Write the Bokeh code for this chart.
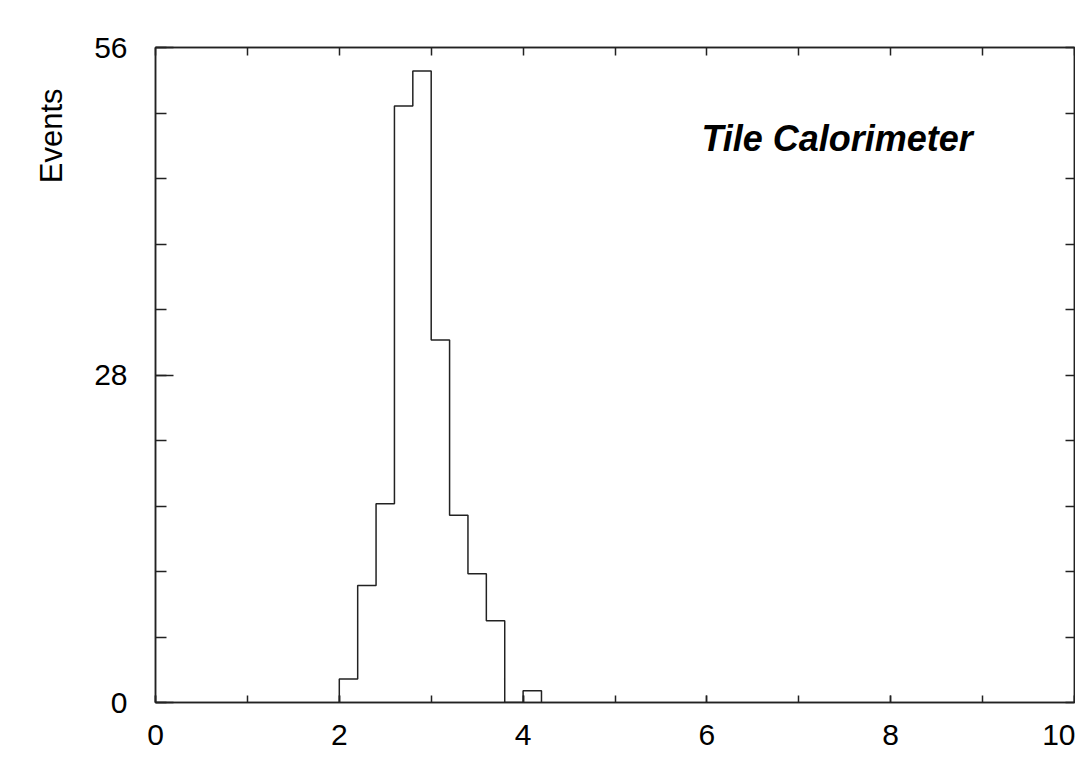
from bokeh.plotting import figure
from bokeh.models import FixedTicker, LinearAxis, Label, Title, Range1d
from bokeh.embed import file_html
from bokeh.resources import INLINE

# ---- data ----
bin_edges = [2.0, 2.2, 2.4, 2.6, 2.8, 3.0, 3.2, 3.4, 3.6, 3.8, 4.0, 4.2]
counts = [2, 10, 17, 51, 54, 31, 16, 11, 7, 0, 1]
x_major_ticks = [0, 2, 4, 6, 8, 10]
x_minor_ticks = [0, 1, 2, 3, 4, 5, 6, 7, 8, 9, 10]
y_major_ticks = [0, 28, 56]
y_minor_ticks = [0, 5.6, 11.2, 16.8, 22.4, 28, 33.6, 39.2, 44.8, 50.4, 56]
y_label = "Events"
annotation_text = "Tile Calorimeter"

FONT = "Liberation Sans"

p = figure(width=1075, height=772, x_range=Range1d(0, 10), y_range=Range1d(0, 56),
           output_backend="svg", toolbar_location=None,
           min_border_left=155, min_border_top=47, min_border_bottom=70, min_border_right=1)
p.grid.visible = False
p.outline_line_color = "#222222"
p.outline_line_width = 1.5
p.background_fill_color = "white"
p.border_fill_color = "white"

# step outline of histogram
sx = [bin_edges[0]] + bin_edges
sy = [0] + counts + [0]
p.step(x=sx, y=sy, mode="after", line_color="#222222", line_width=1.5)

# bottom axis
xa = p.xaxis[0]
xa.ticker = FixedTicker(ticks=x_major_ticks, minor_ticks=x_minor_ticks)
xa.major_tick_in = 7
xa.major_tick_out = 0
xa.minor_tick_in = 7
xa.minor_tick_out = 0
xa.axis_line_color = "#222222"
xa.axis_line_width = 1.5
xa.major_tick_line_color = "#222222"
xa.minor_tick_line_color = "#222222"
xa.major_tick_line_width = 1.5
xa.minor_tick_line_width = 1.5
xa.major_label_text_font = FONT
xa.major_label_text_font_size = "30px"
xa.major_label_text_color = "black"
xa.major_label_standoff = 22

# left axis
ya = p.yaxis[0]
ya.ticker = FixedTicker(ticks=y_major_ticks, minor_ticks=y_minor_ticks)
ya.major_tick_in = 18
ya.major_tick_out = 0
ya.minor_tick_in = 11
ya.minor_tick_out = 0
ya.axis_line_color = "#222222"
ya.axis_line_width = 1.5
ya.major_tick_line_color = "#222222"
ya.minor_tick_line_color = "#222222"
ya.major_tick_line_width = 1.5
ya.minor_tick_line_width = 1.5
ya.major_label_text_font = FONT
ya.major_label_text_font_size = "30px"
ya.major_label_text_color = "black"
ya.major_label_standoff = 28

# top axis (ticks only)
ta = LinearAxis(ticker=FixedTicker(ticks=x_minor_ticks), major_tick_in=8, major_tick_out=0,
                minor_tick_line_color=None,
                major_label_overrides={t: "" for t in x_minor_ticks},
                major_label_standoff=0, axis_line_color="#222222", axis_line_width=1.5,
                major_tick_line_color="#222222", major_tick_line_width=1.5)
p.add_layout(ta, "above")

# right axis (ticks only)
ra = LinearAxis(ticker=FixedTicker(ticks=y_minor_ticks), major_tick_in=9, major_tick_out=0,
                minor_tick_line_color=None,
                major_label_overrides={t: "" for t in y_minor_ticks},
                major_label_standoff=0, axis_line_color="#222222", axis_line_width=1.5,
                major_tick_line_color="#222222", major_tick_line_width=1.5)
p.add_layout(ra, "right")

# y label as left title, aligned toward top
p.add_layout(Title(text=y_label, align="right", text_font=FONT, text_font_size="31px",
                   text_font_style="normal", text_color="black", offset=41, standoff=46), "left")

p.add_layout(Label(x=5.94, y=48.2, text=annotation_text, text_font=FONT,
                   text_font_size="36px", text_font_style="bold italic",
                   text_color="black", text_baseline="alphabetic", text_align="left"))

open("out.html", "w").write(file_html(p, INLINE))
